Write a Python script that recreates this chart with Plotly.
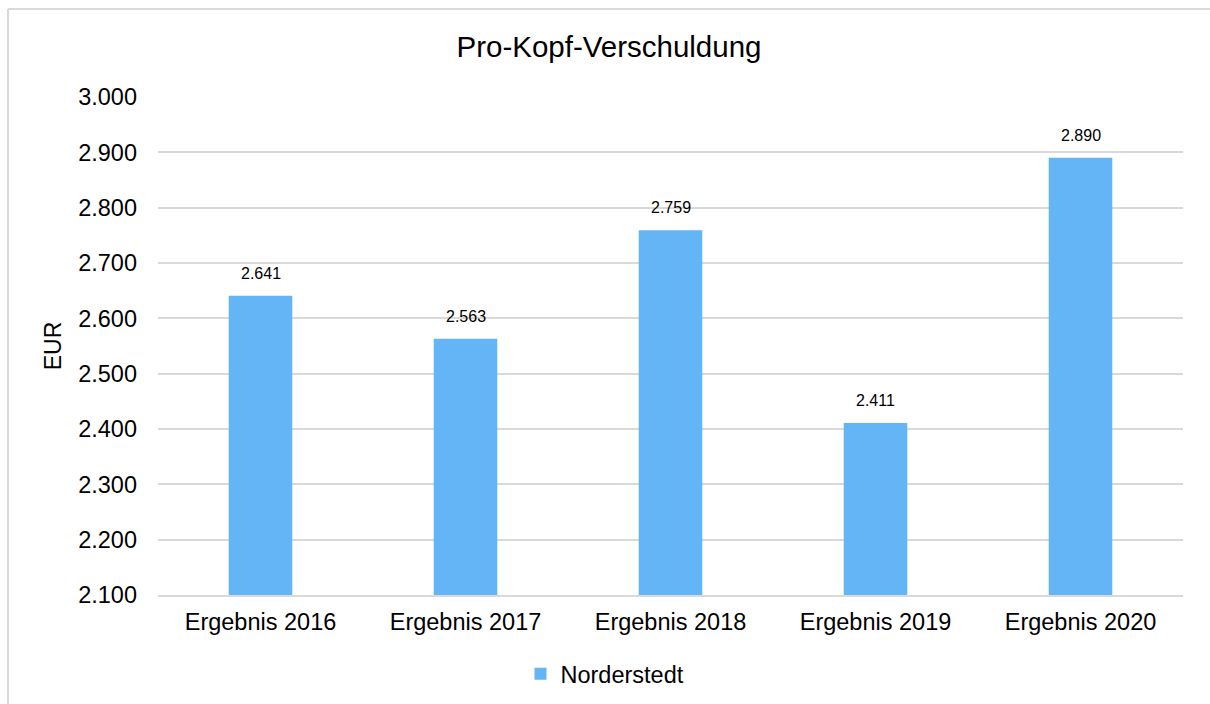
import plotly.graph_objects as go

categories = ["Ergebnis 2016", "Ergebnis 2017", "Ergebnis 2018", "Ergebnis 2019", "Ergebnis 2020"]
values = [2641, 2563, 2759, 2411, 2890]
value_labels = ["2.641", "2.563", "2.759", "2.411", "2.890"]
tick_vals = [2100, 2200, 2300, 2400, 2500, 2600, 2700, 2800, 2900, 3000]
tick_text = ["2.100", "2.200", "2.300", "2.400", "2.500", "2.600", "2.700", "2.800", "2.900", "3.000"]
series_name = "Norderstedt"
title_text = "Pro-Kopf-Verschuldung"
y_title = "EUR"

W, H = 1210, 704
ML, MR, MT, MB = 158, 27, 97, 109
PW, PH = W - ML - MR, H - MT - MB

FONT = "Liberation Sans, Arial, sans-serif"
BAR = "#63B5F6"
GRID = "#D9D9D9"

fig = go.Figure()
fig.add_trace(go.Bar(
    x=categories, y=values, name=series_name,
    marker=dict(color=BAR, line=dict(width=0)),
    showlegend=True,
))

for c, v, t in zip(categories, values, value_labels):
    fig.add_annotation(x=c, y=v, text=t, showarrow=False, yanchor="bottom",
                       yshift=12, font=dict(family=FONT, size=16, color="#000000"))

def px_to_paper_x(px):
    return (px - ML) / PW

def px_to_paper_y(py):
    return (MT + PH - py) / PH

# outer chart border (left and top edges visible)
fig.add_shape(type="line", xref="paper", yref="paper",
              x0=px_to_paper_x(8), x1=px_to_paper_x(8),
              y0=px_to_paper_y(9), y1=px_to_paper_y(H + 5),
              line=dict(color=GRID, width=2))
fig.add_shape(type="line", xref="paper", yref="paper",
              x0=px_to_paper_x(8), x1=px_to_paper_x(W + 5),
              y0=px_to_paper_y(9), y1=px_to_paper_y(9),
              line=dict(color=GRID, width=2))

fig.update_layout(
    width=W, height=H,
    margin=dict(l=ML, r=MR, t=MT, b=MB, pad=0),
    paper_bgcolor="white", plot_bgcolor="white",
    font=dict(family=FONT, color="#000000"),
    title=dict(text=title_text, x=0.5 + 4 / W, xref="container", xanchor="center",
               y=1 - 47 / H, yref="container", yanchor="middle",
               font=dict(family=FONT, size=29.5, color="#000000")),
    bargap=0.69,
    showlegend=True,
    legend=dict(orientation="h", xref="container", yref="container",
                x=0.5, xanchor="center", y=1 - 674 / H, yanchor="middle",
                font=dict(family=FONT, size=23.5, color="#000000"),
                bgcolor="rgba(0,0,0,0)"),
    xaxis=dict(showgrid=False, showline=True, linecolor=GRID, linewidth=2,
               ticks="", tickfont=dict(family=FONT, size=23.5, color="#000000"),
               ticklabelstandoff=5, zeroline=False),
    yaxis=dict(range=[2100, 3000], tickmode="array", tickvals=tick_vals, ticktext=tick_text,
               showgrid=True, gridcolor=GRID, gridwidth=1.5, zeroline=False,
               showline=False, ticks="",
               tickfont=dict(family=FONT, size=23.5, color="#000000"),
               ticklabelstandoff=20,
               title=dict(text=y_title, standoff=10,
                          font=dict(family=FONT, size=23, color="#000000"))),
)

fig.write_html("out.html", config={"displayModeBar": False},
               post_script="document.body.style.margin='0';document.body.style.overflow='hidden';")
